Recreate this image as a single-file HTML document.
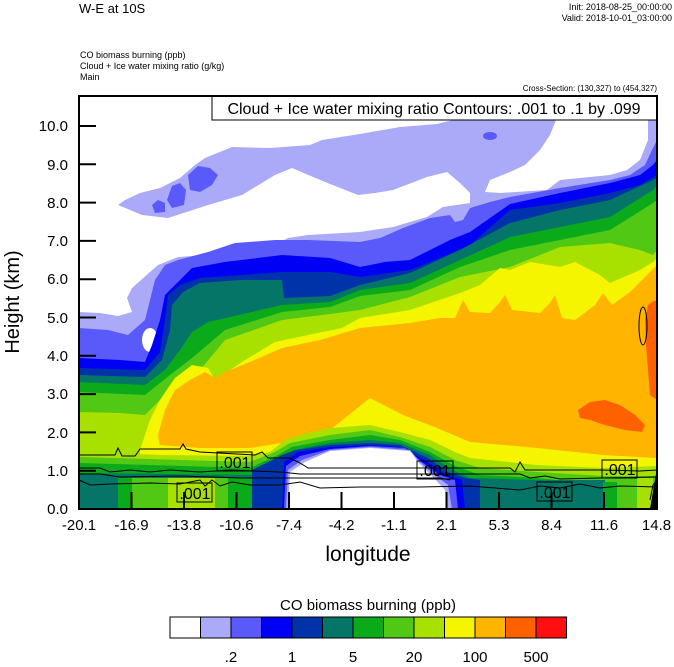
<!DOCTYPE html>
<html><head><meta charset="utf-8"><style>
html,body{margin:0;padding:0;background:#fff;}
svg{display:block;font-family:"Liberation Sans",Arial,sans-serif;}
</style></head><body>
<svg width="674" height="667" viewBox="0 0 674 667" xmlns="http://www.w3.org/2000/svg">
<rect width="674" height="667" fill="#fff"/>
<text x="79" y="13" font-size="13">W-E at 10S</text>
<text x="672" y="10" font-size="9" text-anchor="end">Init: 2018-08-25_00:00:00</text>
<text x="672" y="21" font-size="9" text-anchor="end">Valid: 2018-10-01_03:00:00</text>
<text x="80" y="58" font-size="9">CO biomass burning   (ppb)</text>
<text x="80" y="69" font-size="9">Cloud + Ice water mixing ratio   (g/kg)</text>
<text x="80" y="80" font-size="9">Main</text>
<text x="657" y="91" font-size="8" text-anchor="end">Cross-Section: (130,327) to (454,327)</text>

<g stroke="none">
<!-- L1 -->
<polygon fill="#aaaaf8" points="79,509 79,205 118,205 125,200 140,193 160,188 180,178 195,165 205,158 232,147 270,148 310,145 322,140 360,134 400,127 437,124 453,120 657,120 657,509"/>
<polygon fill="#fff" points="79,205 118,205 142,215 168,218 208,205 242,195 275,175 292,168 325,182 358,195 375,193 393,190 427,177 447,172 460,183 470,193 470,203 443,207 427,217 393,227 360,232 308,235 288,238 275,245 235,252 208,255 178,257 158,265 132,288 127,298 132,312 118,316 100,313 79,312"/>
<polygon fill="#fff" points="556,120 648,120 648,140 640,160 627,170 610,175 560,180 547,190 500,193 485,192 490,180 510,172 525,165 540,150 550,135"/>
<!-- L2 blobs upper -->
<polygon fill="#5a5afa" points="152,205 158,200 165,203 165,212 155,213"/>
<polygon fill="#5a5afa" points="167,200 172,186 180,183 186,190 184,205 172,208"/>
<polygon fill="#5a5afa" points="188,175 198,166 210,168 218,175 212,185 200,192 190,190"/>
<ellipse cx="490" cy="136" rx="7" ry="4" fill="#5a5afa"/>
<!-- L2 -->
<polygon fill="#5a5afa" points="79,328 108,330 128,335 145,320 150,300 155,280 165,265 178,260 208,252 235,243 275,240 308,240 360,242 380,238 403,228 430,218 450,215 455,222 463,220 470,208 490,202 510,197 560,188 610,180 630,175 645,165 652,150 657,140 657,509 79,509"/>
<ellipse cx="150" cy="340" rx="8" ry="12" fill="#fff"/>
<!-- L3 -->
<polygon fill="#0000f5" points="79,358 120,360 145,362 152,345 160,320 165,295 175,285 192,268 225,262 282,255 330,258 360,267 385,262 410,260 430,250 450,240 470,232 510,204 560,193 610,183 640,175 653,165 657,160 657,509 79,509"/>
<!-- L4 -->
<polygon fill="#0033aa" points="79,368 145,370 160,352 165,320 168,295 180,285 200,278 282,272 330,272 360,277 410,270 440,258 470,245 510,210 560,203 610,193 640,185 657,175 657,509 79,509"/>
<!-- L5 -->
<polygon fill="#047566" points="79,375 145,377 162,360 170,330 172,305 183,292 200,283 240,280 282,280 284,298 330,296 360,285 410,273 460,250 510,223 560,210 610,200 653,180 657,178 657,509 79,509"/>
<!-- L6 -->
<polygon fill="#0aaa1a" points="79,382 145,385 165,370 180,350 192,332 208,322 282,305 330,302 360,290 410,283 460,260 510,237 560,227 610,217 653,190 657,185 657,509 79,509"/>
<!-- L7 -->
<polygon fill="#50c814" points="79,392 145,395 170,375 192,358 225,330 282,312 330,307 360,296 410,290 460,267 510,250 560,240 610,230 653,203 657,200 657,509 79,509"/>
<!-- L8 -->
<polygon fill="#a8e000" points="79,412 120,413 145,415 165,395 175,382 200,370 225,340 282,320 330,314 360,310 410,297 460,277 510,267 560,247 610,243 640,250 653,255 657,250 657,509 79,509"/>
<!-- L9 -->
<polygon fill="#f5f500" points="140,509 140,450 150,420 160,400 170,385 175,378 192,365 208,368 215,380 242,362 275,342 308,335 342,328 360,318 410,310 460,293 480,285 500,268 510,270 530,262 560,267 575,262 600,275 610,283 640,270 653,262 657,258 657,509"/>
<!-- L10 -->
<polygon fill="#ffb400" points="160,448 158,435 165,410 175,390 190,380 205,372 215,378 225,372 250,362 282,348 320,340 360,328 410,323 440,318 455,318 463,300 470,312 490,313 500,302 505,295 512,310 540,313 550,303 555,295 562,318 575,320 595,305 603,293 612,305 630,292 650,272 657,265 657,509 160,509"/>
<!-- L11 -->
<polygon fill="#ff6000" points="645,320 648,305 652,302 657,300 657,400 650,395 648,370 646,345"/>
<polygon fill="#ff6000" points="578,410 590,402 605,400 620,405 635,415 645,425 642,432 625,430 605,425 590,420 580,418"/>
<!-- lower layers -->
<polygon fill="#f5f500" points="150,509 150,450 160,445 200,448 250,448 300,440 330,430 370,398 403,415 437,428 470,442 537,448 603,455 657,458 657,509"/>
<polygon fill="#a8e000" points="79,509 79,452 160,455 250,456 270,452 285,440 300,435 330,428 370,425 400,432 430,440 455,452 470,458 537,465 603,468 657,466 657,509"/>
<polygon fill="#50c814" points="79,509 79,457 250,462 275,452 290,443 330,435 370,430 400,437 430,447 455,460 480,468 537,472 603,476 657,476 657,509"/>
<polygon fill="#0aaa1a" points="79,509 79,463 250,468 278,455 292,447 330,440 370,435 400,440 430,452 455,466 480,475 537,478 603,485 640,490 657,490 657,509"/>
<polygon fill="#047566" points="79,509 79,473 250,475 280,460 294,450 330,443 370,440 400,443 430,455 452,470 470,478 537,480 605,480 605,509"/>
<rect x="118" y="478" width="14" height="31" fill="#0aaa1a"/>
<rect x="132" y="478" width="36" height="31" fill="#50c814"/>
<rect x="168" y="478" width="47" height="31" fill="#a8e000"/>
<rect x="215" y="478" width="13" height="31" fill="#50c814"/>
<rect x="228" y="478" width="24" height="31" fill="#0aaa1a"/>
<rect x="603" y="482" width="15" height="27" fill="#0aaa1a"/>
<rect x="617" y="480" width="20" height="29" fill="#50c814"/>
<rect x="637" y="478" width="16" height="31" fill="#a8e000"/>
<polygon fill="#0033aa" points="252,509 252,470 282,455 296,450 330,445 370,443 400,445 428,458 448,472 465,478 480,480 480,509"/>
<polygon fill="#0000f5" points="282,509 284,462 298,452 330,447 370,445 400,447 425,460 445,474 462,480 465,509"/>
<polygon fill="#5a5afa" points="284,509 286,466 300,456 330,449 370,446 405,448 422,462 440,475 455,480 458,509"/>
<polygon fill="#aaaaf8" points="286,509 288,470 302,460 330,450 370,447 410,450 420,462 435,475 448,485 452,509"/>
<polygon fill="#fff" points="288,509 290,472 305,462 330,451 370,448 410,451 418,462 432,476 445,490 447,509"/>
<polygon fill="#000" points="650,509 657,468 657,509"/>
</g>

<!-- contour lines -->
<g fill="none" stroke="#000" stroke-width="1">
<polyline points="79,455 115,455 118,448 122,456 135,456 140,449 180,449 183,444 186,449 200,452 255,455 262,452 268,458 290,458 298,462 305,466 308,468 510,468 515,472 520,462 525,470 600,470 640,471 657,470"/>
<polyline points="79,468 100,468 110,472 130,470 150,472 170,470 200,472 230,470 280,472 300,474 520,474 530,478 545,476 560,479 600,478 657,477"/>
<polyline points="79,480 90,485 110,484 150,483 180,484 200,480 205,486 212,480 220,486 232,482 250,485 280,485 300,482 320,488 360,487 420,487 470,486 520,490 540,486 560,488 580,484 600,488 620,486 657,487"/>
<polyline points="79,474 100,474 120,477 180,476 240,478 280,478 300,478 440,478 450,480"/>
<ellipse cx="643" cy="326" rx="4" ry="19"/>
<polyline points="650,500 653,485 657,480"/>
</g>
<g font-size="16" text-anchor="middle">
<rect x="217" y="452" width="35" height="19" fill="none" stroke="#000"/><text x="235" y="468">.001</text>
<rect x="177" y="483" width="35" height="19" fill="none" stroke="#000"/><text x="195" y="499">.001</text>
<rect x="417" y="461" width="36" height="18" fill="none" stroke="#000"/><text x="435" y="476">.001</text>
<rect x="537" y="482" width="35" height="19" fill="none" stroke="#000"/><text x="555" y="498">.001</text>
<rect x="602" y="460" width="35" height="18" fill="none" stroke="#000"/><text x="620" y="475">.001</text>
</g>

<!-- legend box -->
<rect x="212" y="96" width="445" height="24" fill="#fff" stroke="#000" stroke-width="1"/>
<text x="434" y="114" font-size="16" text-anchor="middle">Cloud + Ice water mixing ratio Contours: .001 to .1 by .099</text>

<!-- frame -->
<rect x="79" y="96" width="578" height="413" fill="none" stroke="#000" stroke-width="2"/>
<g stroke="#000" stroke-width="2">
<line x1="79" y1="470.7" x2="96" y2="470.7"/><line x1="79" y1="432.4" x2="96" y2="432.4"/>
<line x1="79" y1="394.1" x2="96" y2="394.1"/><line x1="79" y1="355.8" x2="96" y2="355.8"/>
<line x1="79" y1="317.5" x2="96" y2="317.5"/><line x1="79" y1="279.2" x2="96" y2="279.2"/>
<line x1="79" y1="240.9" x2="96" y2="240.9"/><line x1="79" y1="202.6" x2="96" y2="202.6"/>
<line x1="79" y1="164.3" x2="96" y2="164.3"/><line x1="79" y1="126" x2="96" y2="126"/>
<line x1="131.5" y1="509" x2="131.5" y2="492"/><line x1="184" y1="509" x2="184" y2="492"/>
<line x1="236.5" y1="509" x2="236.5" y2="492"/><line x1="289" y1="509" x2="289" y2="492"/>
<line x1="341.5" y1="509" x2="341.5" y2="492"/><line x1="394" y1="509" x2="394" y2="492"/>
<line x1="446.5" y1="509" x2="446.5" y2="492"/><line x1="499" y1="509" x2="499" y2="492"/>
<line x1="551.5" y1="509" x2="551.5" y2="492"/><line x1="604" y1="509" x2="604" y2="492"/>
</g>
<g font-size="15" text-anchor="end">
<text x="68" y="514">0.0</text><text x="68" y="476">1.0</text><text x="68" y="438">2.0</text>
<text x="68" y="399">3.0</text><text x="68" y="361">4.0</text><text x="68" y="323">5.0</text>
<text x="68" y="284">6.0</text><text x="68" y="246">7.0</text><text x="68" y="208">8.0</text>
<text x="68" y="170">9.0</text><text x="68" y="131">10.0</text>
</g>
<g font-size="15" text-anchor="middle">
<text x="79" y="530">-20.1</text><text x="131.5" y="530">-16.9</text><text x="184" y="530">-13.8</text>
<text x="236.5" y="530">-10.6</text><text x="289" y="530">-7.4</text><text x="341.5" y="530">-4.2</text>
<text x="394" y="530">-1.1</text><text x="446.5" y="530">2.1</text><text x="499" y="530">5.3</text>
<text x="551.5" y="530">8.4</text><text x="604" y="530">11.6</text><text x="656.5" y="530">14.8</text>
</g>
<text x="368" y="561" font-size="21" text-anchor="middle">longitude</text>
<text transform="translate(19,302) rotate(-90)" font-size="20" text-anchor="middle">Height (km)</text>

<!-- colorbar -->
<text x="368" y="610" font-size="15" text-anchor="middle">CO biomass burning  (ppb)</text>
<g stroke="#000" stroke-width="1">
<rect x="170" y="617" width="30.5" height="21" fill="#fff"/>
<rect x="200.5" y="617" width="30.5" height="21" fill="#aaaaf8"/>
<rect x="231" y="617" width="30.5" height="21" fill="#5a5afa"/>
<rect x="261.5" y="617" width="30.5" height="21" fill="#0000f5"/>
<rect x="292" y="617" width="30.5" height="21" fill="#0033aa"/>
<rect x="322.5" y="617" width="30.5" height="21" fill="#047566"/>
<rect x="353" y="617" width="30.5" height="21" fill="#0aaa1a"/>
<rect x="383.5" y="617" width="30.5" height="21" fill="#50c814"/>
<rect x="414" y="617" width="30.5" height="21" fill="#a8e000"/>
<rect x="444.5" y="617" width="30.5" height="21" fill="#f5f500"/>
<rect x="475" y="617" width="30.5" height="21" fill="#ffb400"/>
<rect x="505.5" y="617" width="30.5" height="21" fill="#ff6000"/>
<rect x="536" y="617" width="30.5" height="21" fill="#ff0f0f"/>
</g>
<g font-size="15" text-anchor="middle">
<text x="231" y="662">.2</text><text x="292" y="662">1</text><text x="353" y="662">5</text>
<text x="414" y="662">20</text><text x="475" y="662">100</text><text x="536" y="662">500</text>
</g>
</svg>
</body></html>
